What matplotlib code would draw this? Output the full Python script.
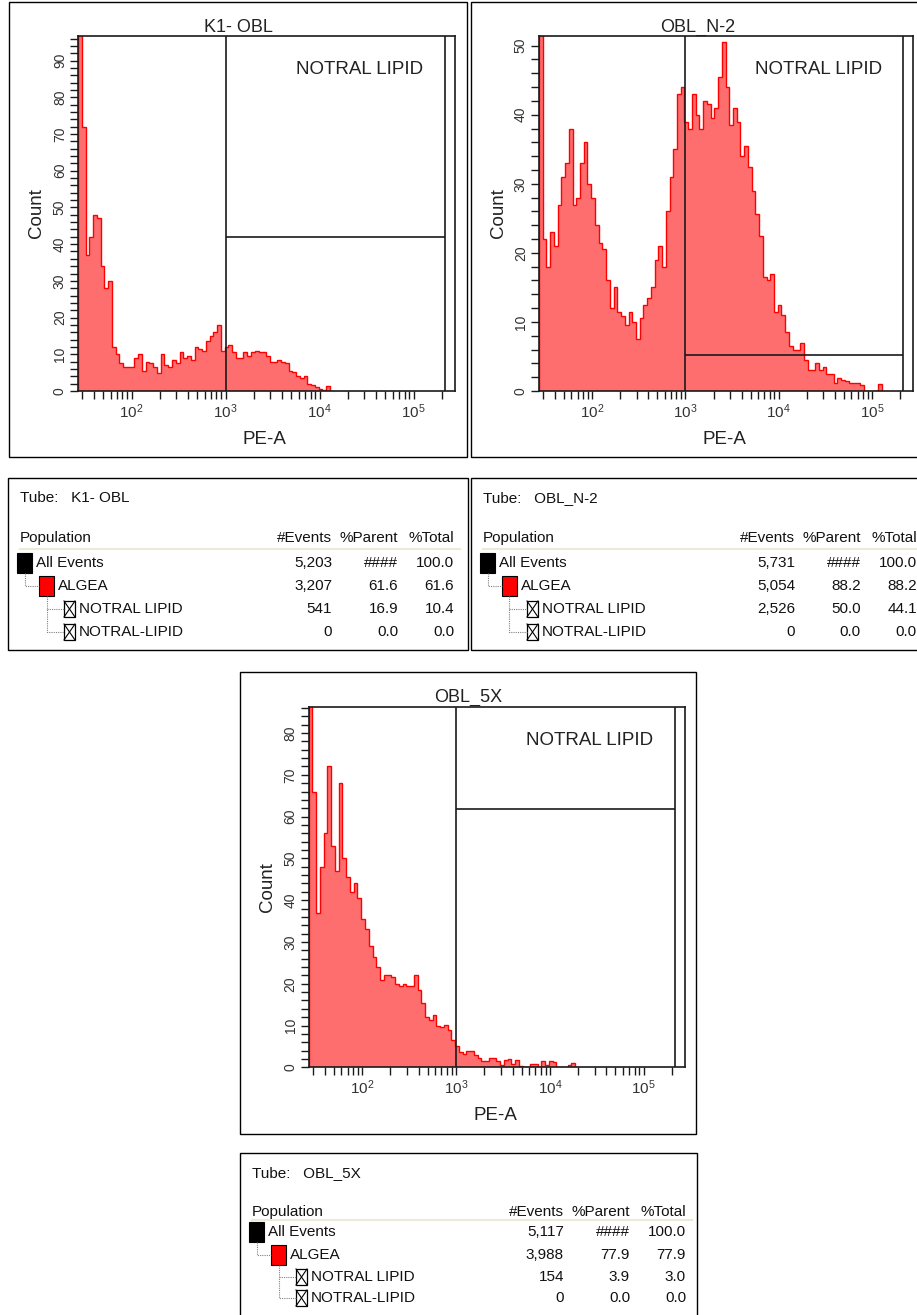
import matplotlib
matplotlib.use("Agg")
import matplotlib.pyplot as plt
import numpy as np
from matplotlib.patches import Rectangle
from matplotlib.lines import Line2D

W, H = 917, 1315

plt.rcParams["font.family"] = ["Liberation Sans", "DejaVu Sans"]

# Histogram bins: start (log10 of PE-A) and width in decades.
LOG_START = 1.43
BIN_W = 0.04

K1_COUNTS = [120, 72, 37, 42, 48, 47, 34, 28, 30, 12,
             10, 7.5, 6.5, 6.5, 6.5, 9, 10, 5.5, 8, 7.5,
             6.5, 5, 10, 7, 6.5, 8.5, 7.5, 10.5, 9, 9.5,
             8.5, 12, 11.5, 11, 13.5, 15, 16, 18, 11, 12,
             12.5, 10.7, 9, 9, 10.5, 9.5, 10.7, 11, 10.5, 10.5,
             9.5, 8, 8, 8.5, 8, 7.5, 5.5, 5.2, 4, 3.5,
             4, 2, 1.6, 1.2, 0.6, 0.4, 1.4]

N2_COUNTS = [60, 22, 18, 23, 21, 27, 31, 33, 38, 27,
             28, 33, 36, 30, 28, 24, 21.5, 20.5, 16, 12,
             15, 11.5, 10.8, 9.5, 11.5, 10, 7.5, 10.5, 12.5, 13.5,
             15, 19, 21, 18, 26, 31, 35, 43, 44, 39,
             38, 43, 40, 38, 42, 41.5, 39.5, 41, 45.5, 50.5,
             44, 38.5, 41, 39, 34, 35.5, 32.5, 29, 25.7, 22.5,
             16.5, 16, 17, 11.5, 12.5, 11, 8.5, 6.5, 6, 6,
             7, 4.5, 3, 3, 4, 3, 3.5, 2.5, 2.5, 1.2,
             1.9, 1.6, 1.5, 1.2, 1.2, 1.2, 0.8, 0, 0, 0,
             0, 1]

X5_COUNTS = [100, 66, 37, 48, 56, 72, 53, 47, 68, 50,
             45.5, 42, 44, 40.5, 35.5, 33, 29, 26.5, 24, 21,
             22, 22, 21.5, 20, 19.4, 20, 19.5, 19.5, 22, 18.5,
             15.5, 12, 11.4, 12.6, 9.8, 9.6, 10.2, 9, 6.5, 5.2,
             3.6, 3.2, 3.8, 4, 3, 2.2, 1.4, 1.4, 2.3, 2.3,
             1.4, 0.6, 1.8, 2.1, 0.8, 1.8, 0.3, 0, 0, 0.7,
             0.7, 0, 1.4, 0.5, 1.4, 1.2, 0, 0, 0, 0.6,
             1.0]

TITLES = ["K1- OBL", "OBL_N-2", "OBL_5X"]
GATE_LEVELS = [42, 5.2, 61.9]
Y_MAX = [96.7, 51.4, 86.3]
Y_TOP_LABEL = [90, 50, 80]

GATE_LO = 1000
GATE_HI = 2.15e5
X_MIN = 10 ** 1.43
X_MAX = 10 ** 5.44

ROW_NAMES = ["All Events", "ALGEA", "NOTRAL LIPID", "NOTRAL-LIPID"]
EVENTS = [["5,203", "3,207", "541", "0"],
          ["5,731", "5,054", "2,526", "0"],
          ["5,117", "3,988", "154", "0"]]
PARENT = [["####", "61.6", "16.9", "0.0"],
          ["####", "88.2", "50.0", "0.0"],
          ["####", "77.9", "3.9", "0.0"]]
TOTAL = [["100.0", "61.6", "10.4", "0.0"],
         ["100.0", "88.2", "44.1", "0.0"],
         ["100.0", "77.9", "3.0", "0.0"]]

FILL = "#ff6e6e"
INK = "#1a1a1a"


def fx(x):
    return x / W


def fy(y):
    return 1 - y / H


def box(fig, x0, y0, x1, y1, lw=1.0, ec="black", fc="none"):
    fig.add_artist(Rectangle((fx(x0), fy(y1)), (x1 - x0) / W, (y1 - y0) / H,
                             transform=fig.transFigure, ec=ec, fc=fc, lw=lw))


def line(fig, xs, ys, **kw):
    fig.add_artist(Line2D([fx(x) for x in xs], [fy(y) for y in ys],
                          transform=fig.transFigure, **kw))


def draw_panel(fig, outer, inner, title, counts, ymax, gate_y, ytop):
    box(fig, *outer)
    x0, y0, x1, y1 = inner
    ax = fig.add_axes([fx(x0), fy(y1), (x1 - x0) / W, (y1 - y0) / H])
    edges = 10 ** (LOG_START + BIN_W * np.arange(len(counts) + 1))
    ax.stairs(counts, edges, fill=True, color=FILL, lw=0)
    ax.stairs(counts, edges, color="red", lw=1.0)

    ax.set_xscale("log")
    ax.set_xlim(X_MIN, X_MAX)
    ax.set_ylim(0, ymax)

    ax.axvline(GATE_LO, color=INK, lw=1.2)
    ax.axvline(GATE_HI, color=INK, lw=1.2)
    ax.hlines(gate_y, GATE_LO, GATE_HI, color=INK, lw=1.2)

    majors = [1e2, 1e3, 1e4, 1e5]
    minors = [m * 10 ** e for e in range(1, 5) for m in range(2, 10)]
    minors = [v for v in minors if v >= 30] + [2e5]
    ax.set_xticks(majors)
    ax.set_xticklabels([r"$\mathregular{10^{%d}}$" % e for e in range(2, 6)],
                       fontsize=11)
    ax.set_xticks(minors, minor=True)
    ax.xaxis.set_minor_formatter(matplotlib.ticker.NullFormatter())

    ax.set_yticks(range(0, ytop + 1, 10))
    ax.set_yticklabels([str(v) for v in range(0, ytop + 1, 10)],
                       rotation=90, va="center", fontsize=10)
    ax.set_yticks(np.arange(0, ymax, 2), minor=True)

    ax.tick_params(which="both", direction="out", length=6, width=1,
                   color=INK, labelcolor="#333333")
    ax.tick_params(axis="x", pad=2)
    ax.tick_params(axis="y", pad=2)
    for s in ax.spines.values():
        s.set_color(INK)
        s.set_linewidth(1.2)

    ax.text(0.577, 0.905, "NOTRAL LIPID", transform=ax.transAxes,
            ha="left", va="center", fontsize=13.5, color="#222222")
    w = x1 - x0
    ax.text(-41 / w, 0.5, "Count", transform=ax.transAxes, rotation=90,
            ha="center", va="center", fontsize=13.5, color="#222222")
    ax.text(0.495, -48 / (y1 - y0), "PE-A", transform=ax.transAxes,
            ha="center", va="center", fontsize=13.5, color="#222222")
    fig.text(fx((outer[0] + outer[2]) / 2), fy(outer[1] + 25), title,
             ha="center", va="center", fontsize=13, color="#222222")


def draw_table(fig, outer, k, tube_y, pop_y, sep_y, rows_y):
    box(fig, *outer)
    L = outer[0]
    fs = 11
    kw = dict(fontsize=fs, color="#111111", va="center")
    fig.text(fx(L + 12), fy(tube_y), "Tube:   " + TITLES[k], ha="left", **kw)
    fig.text(fx(L + 12), fy(pop_y), "Population", ha="left", **kw)
    fig.text(fx(L + 324), fy(pop_y), "#Events", ha="right", **kw)
    fig.text(fx(L + 390), fy(pop_y), "%Parent", ha="right", **kw)
    fig.text(fx(L + 446), fy(pop_y), "%Total", ha="right", **kw)
    line(fig, [L + 12, min(L + 452, W)], [sep_y, sep_y], color="#ece9d8", lw=1.5)

    r0, r1, r2, r3 = rows_y
    # population tree markers
    box(fig, L + 9, r0 - 10, L + 24, r0 + 10, lw=0.8, ec="black", fc="black")
    box(fig, L + 31, r1 - 10, L + 46, r1 + 10, lw=0.8, ec="black", fc="red")
    for r in (r2, r3):
        bx0, bx1, by0, by1 = L + 56, L + 67, r - 8, r + 8
        box(fig, bx0, by0, bx1, by1, lw=0.9)
        line(fig, [bx0, bx1], [by0, by1], color="black", lw=0.8)
        line(fig, [bx0, bx1], [by1, by0], color="black", lw=0.8)
    dot = dict(color="#808080", lw=0.8, linestyle=(0, (1, 1)))
    line(fig, [L + 16.5, L + 16.5, L + 31], [r0 + 10, r1, r1], **dot)
    line(fig, [L + 38.5, L + 38.5, L + 56], [r1 + 10, r3, r3], **dot)
    line(fig, [L + 38.5, L + 56], [r2, r2], **dot)

    name_x = [L + 28, L + 50, L + 71, L + 71]
    for i, r in enumerate(rows_y):
        fig.text(fx(name_x[i]), fy(r), ROW_NAMES[i], ha="left", **kw)
        fig.text(fx(L + 324), fy(r), EVENTS[k][i], ha="right", **kw)
        fig.text(fx(L + 390), fy(r), PARENT[k][i], ha="right", **kw)
        fig.text(fx(L + 446), fy(r), TOTAL[k][i], ha="right", **kw)


fig = plt.figure(figsize=(W / 100, H / 100), dpi=100)

draw_panel(fig, (9, 2, 467, 457), (78, 36, 455, 391), TITLES[0],
           K1_COUNTS, Y_MAX[0], GATE_LEVELS[0], Y_TOP_LABEL[0])
draw_panel(fig, (471, 2, 925, 457), (539, 36, 913, 391), TITLES[1],
           N2_COUNTS, Y_MAX[1], GATE_LEVELS[1], Y_TOP_LABEL[1])
draw_panel(fig, (240, 672, 696, 1134), (308.7, 706.7, 685, 1067.3), TITLES[2],
           X5_COUNTS, Y_MAX[2], GATE_LEVELS[2], Y_TOP_LABEL[2])

draw_table(fig, (8, 478, 468, 650), 0, 498, 538, 549, [563, 586, 609, 632])
draw_table(fig, (471, 478, 925, 650), 1, 498, 538, 549, [563, 586, 609, 632])
draw_table(fig, (240, 1153, 697, 1318), 2, 1173, 1212, 1220,
           [1232, 1255, 1277, 1298])

fig.savefig("out.png", dpi=100)
